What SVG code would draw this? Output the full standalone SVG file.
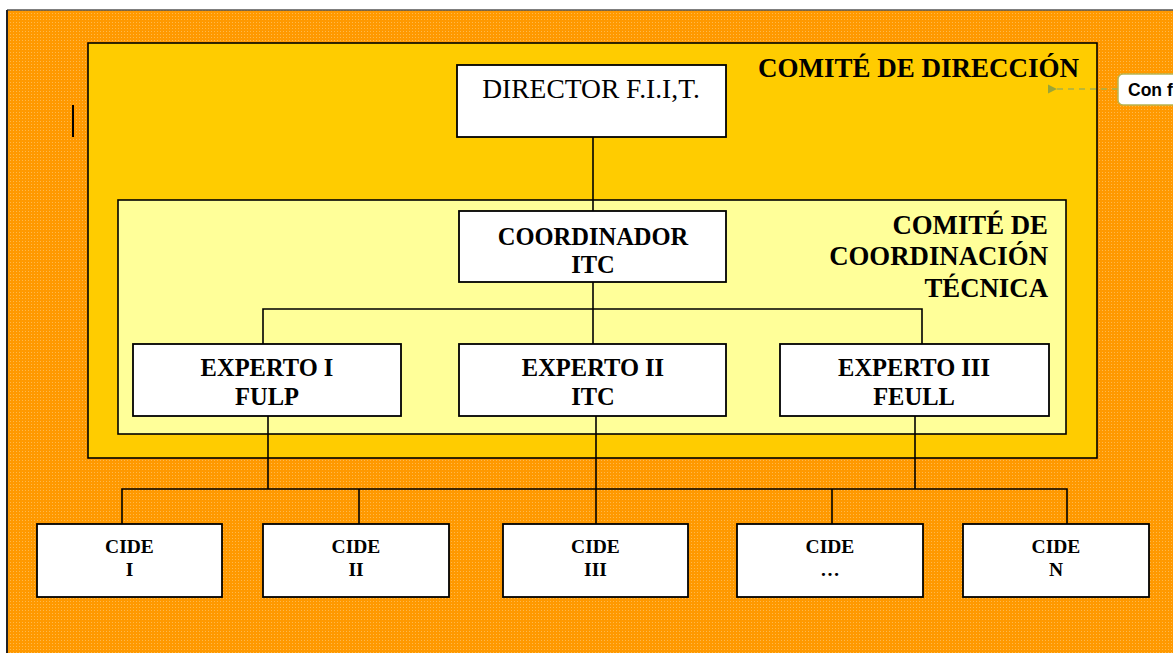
<svg xmlns="http://www.w3.org/2000/svg" width="1173" height="653" viewBox="0 0 1173 653">
<style>
.box{fill:#fff;stroke:#000;stroke-width:1.8}
.con{stroke:#000;stroke-width:1.6;fill:none}
.t{font-family:"Liberation Serif","Times New Roman",serif;font-weight:bold;text-anchor:middle;fill:#000}
.big{font-size:24.5px}
.sm{font-size:19.5px}
.lab{font-family:"Liberation Serif","Times New Roman",serif;font-weight:bold;text-anchor:end;fill:#000}
</style>
<defs>
<pattern id="dots" width="3" height="3" patternUnits="userSpaceOnUse">
<rect width="3" height="3" fill="#FF9900"/>
<rect x="1" y="1" width="1" height="1" fill="#FFB84A"/>
</pattern>
<marker id="arr" viewBox="0 0 10 10" refX="1" refY="5" markerWidth="7" markerHeight="7" orient="auto">
<path d="M10,0 L0,5 L10,10 Z" fill="#9aa538"/>
</marker>
</defs>
<rect width="1173" height="653" fill="#fff"/>
<g id="background">
<rect x="7" y="10" width="1170" height="650" fill="url(#dots)"/>
<line x1="7" y1="10" x2="1173" y2="10" stroke="#555" stroke-width="1.5"/>
<line x1="7" y1="10" x2="7" y2="653" stroke="#222" stroke-width="2"/>
<line x1="73" y1="105" x2="73" y2="137" stroke="#000" stroke-width="2"/>
</g>
<g id="comite-direccion">
<rect x="88" y="43" width="1009" height="415" fill="#FFCC00" stroke="#000" stroke-width="1.6"/>
<text class="lab" x="1079" y="77" font-size="27">COMITÉ DE DIRECCIÓN</text>
</g>
<g id="comite-coordinacion">
<rect x="118" y="200" width="948" height="234" fill="#FFFF99" stroke="#000" stroke-width="1.6"/>
<text class="lab" x="1048" y="234" font-size="26.8">COMITÉ DE</text>
<text class="lab" x="1048" y="265" font-size="26.8">COORDINACIÓN</text>
<text class="lab" x="1048" y="297" font-size="26.8">TÉCNICA</text>
</g>
<g id="connectors">
<line class="con" x1="593" y1="137" x2="593" y2="211"/>
<line class="con" x1="593" y1="282" x2="593" y2="344"/>
<polyline class="con" points="263,344 263,309 922,309 922,344"/>
<line class="con" x1="268" y1="416" x2="268" y2="489"/>
<line class="con" x1="596" y1="416" x2="596" y2="524"/>
<line class="con" x1="915" y1="416" x2="915" y2="489"/>
<polyline class="con" points="122,524 122,489 1067,489 1067,524"/>
<line class="con" x1="359" y1="489" x2="359" y2="524"/>
<line class="con" x1="832" y1="489" x2="832" y2="524"/>
</g>
<g id="director">
<rect class="box" x="457" y="65" width="269" height="72"/>
<text x="591" y="98" font-family="Liberation Serif,'Times New Roman',serif" font-size="27.5" text-anchor="middle" fill="#000">DIRECTOR F.I.I,T.</text>
</g>
<g id="coordinador">
<rect class="box" x="459" y="211" width="267" height="71"/>
<text class="t big" x="593" y="245">COORDINADOR</text>
<text class="t big" x="593" y="273">ITC</text>
</g>
<g id="experto1">
<rect class="box" x="133" y="344" width="268" height="72"/>
<text class="t big" x="267" y="376">EXPERTO I</text>
<text class="t big" x="267" y="405">FULP</text>
</g>
<g id="experto2">
<rect class="box" x="459" y="344" width="267" height="72"/>
<text class="t big" x="593" y="376">EXPERTO II</text>
<text class="t big" x="593" y="405">ITC</text>
</g>
<g id="experto3">
<rect class="box" x="780" y="344" width="269" height="72"/>
<text class="t big" x="914" y="376">EXPERTO III</text>
<text class="t big" x="914" y="405">FEULL</text>
</g>
<g id="cide1">
<rect class="box" x="37" y="524" width="185" height="73"/>
<text class="t sm" x="129.5" y="553">CIDE</text>
<text class="t sm" x="129.5" y="576">I</text>
</g>
<g id="cide2">
<rect class="box" x="263" y="524" width="186" height="73"/>
<text class="t sm" x="356" y="553">CIDE</text>
<text class="t sm" x="356" y="576">II</text>
</g>
<g id="cide3">
<rect class="box" x="503" y="524" width="185" height="73"/>
<text class="t sm" x="595.5" y="553">CIDE</text>
<text class="t sm" x="595.5" y="576">III</text>
</g>
<g id="cide4">
<rect class="box" x="737" y="524" width="186" height="73"/>
<text class="t sm" x="830" y="553">CIDE</text>
<text class="t sm" x="830" y="576">…</text>
</g>
<g id="cideN">
<rect class="box" x="963" y="524" width="186" height="73"/>
<text class="t sm" x="1056" y="553">CIDE</text>
<text class="t sm" x="1056" y="576">N</text>
</g>
<g id="comment">
<line x1="1118" y1="89" x2="1056" y2="89" stroke="#a8b048" stroke-width="1.3" stroke-dasharray="6,5" marker-end="url(#arr)"/>
<rect x="1118" y="74" width="70" height="31" rx="5" fill="#fff" stroke="#b8b450" stroke-width="1.5"/>
<text x="1128" y="96" font-family="Liberation Sans,Arial,sans-serif" font-weight="bold" font-size="17.5" fill="#000">Con f</text>
</g>
</svg>
